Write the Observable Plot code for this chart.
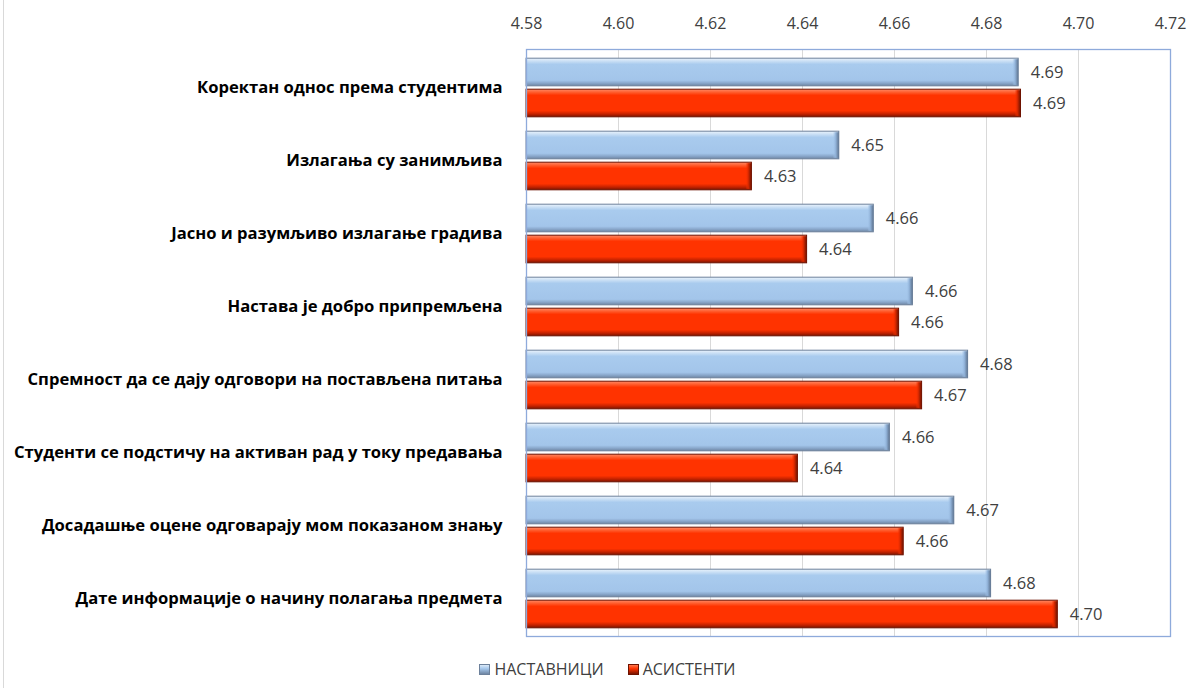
<!DOCTYPE html>
<html><head><meta charset="utf-8">
<script src="https://cdn.jsdelivr.net/npm/d3@7"></script>
<script src="https://cdn.jsdelivr.net/npm/@observablehq/plot@0.6"></script>
<style>
body{margin:0;background:#fff;font-family:"Open Sans",sans-serif;}
#wrap{position:relative;width:1189px;height:688px;overflow:hidden;}
#edge{position:absolute;left:3px;top:0;width:1px;height:688px;background:#d9d9d9;}
#legend{position:absolute;top:658px;left:26px;width:1163px;display:flex;justify-content:center;gap:24px;font-size:16px;color:#404040;}
#legend .it{display:flex;align-items:center;gap:4px;}
#legend .sw{width:9px;height:9px;display:inline-block;}
</style></head>
<body><div id="wrap"><div id="edge"></div><div id="chart"></div><div id="legend"></div></div>
<script>
const categories = [
  "Коректан однос према студентима",
  "Излагања су занимљива",
  "Јасно и разумљиво излагање градива",
  "Настава је добро припремљена",
  "Спремност да се дају одговори на постављена питања",
  "Студенти се подстичу на активан рад у току предавања",
  "Досадашње оцене одговарају мом показаном знању",
  "Дате информације о начину полагања предмета"
];
const seriesNames = ["НАСТАВНИЦИ", "АСИСТЕНТИ"];
const nastavnici = [4.687, 4.648, 4.6555, 4.664, 4.676, 4.659, 4.673, 4.681];
const asistenti  = [4.6875, 4.629, 4.641, 4.661, 4.666, 4.639, 4.662, 4.6955];
const xTicks = [4.58, 4.60, 4.62, 4.64, 4.66, 4.68, 4.70, 4.72];
const xMin = 4.58, xMax = 4.72;

const blue = categories.map((c, i) => ({cat: c, value: nastavnici[i], series: seriesNames[0]}));
const red  = categories.map((c, i) => ({cat: c, value: asistenti[i],  series: seriesNames[1]}));

const W = 1189, H = 648, mTop = 49, mBottom = 12, mLeft = 526, mRight = 19;
const band = (H - mTop - mBottom) / categories.length;
const barH = 28, gap = 3, outer = (band - 2 * barH - gap) / 2;
const fmt = d3.format(".2f");

const chart = Plot.plot({
  width: W, height: H,
  marginTop: mTop, marginBottom: mBottom, marginLeft: mLeft, marginRight: mRight,
  style: {fontFamily: "'Open Sans', sans-serif", background: "#fff"},
  x: {domain: [xMin, xMax], label: null},
  y: {domain: categories, padding: 0, label: null},
  marks: [
    Plot.gridX(xTicks.slice(1, -1), {stroke: "#d9d9d9", strokeOpacity: 1, strokeWidth: 1}),
    Plot.axisX(xTicks, {anchor: "top", label: null, tickSize: 0, tickPadding: 21, tickFormat: fmt, fontSize: 16, fill: "#404040"}),
    Plot.axisY({label: null, tickSize: 0, tickPadding: 24, fontSize: 16.6, fontWeight: "bold", fill: "#000"}),
    Plot.barX(blue, {x1: () => xMin, x2: "value", y: "cat", insetTop: outer, insetBottom: band - outer - barH, fill: "url(#gBlue)", stroke: "#6d819b", strokeWidth: 1}),
    Plot.barX(red, {x1: () => xMin, x2: "value", y: "cat", insetTop: outer + barH + gap, insetBottom: outer, fill: "url(#gRed)", stroke: "#6e1200", strokeWidth: 1}),
    Plot.barX(blue, {x1: d => d.value - 0.0013, x2: "value", y: "cat", insetTop: outer + 1, insetBottom: band - outer - barH + 1, fill: "url(#gBlueEnd)"}),
    Plot.barX(red, {x1: d => d.value - 0.0013, x2: "value", y: "cat", insetTop: outer + barH + gap + 1, insetBottom: outer + 1, fill: "url(#gRedEnd)"}),
    Plot.text(blue, {x: "value", y: "cat", text: d => fmt(d.value), dx: 12, dy: -(barH + gap) / 2, textAnchor: "start", fontSize: 16.5, fill: "#404040"}),
    Plot.text(red, {x: "value", y: "cat", text: d => fmt(d.value), dx: 12, dy: (barH + gap) / 2, textAnchor: "start", fontSize: 16.5, fill: "#404040"}),
    Plot.frame({stroke: "#8eaadb", strokeWidth: 1.3})
  ]
});

const defs = document.createElementNS("http://www.w3.org/2000/svg", "defs");
defs.innerHTML = `
<linearGradient id="gBlue" x1="0" y1="0" x2="0" y2="1">
  <stop offset="0" stop-color="#eaf3fc"/><stop offset="0.12" stop-color="#c6ddf4"/>
  <stop offset="0.22" stop-color="#a9cbee"/><stop offset="0.8" stop-color="#a3c5ea"/>
  <stop offset="0.9" stop-color="#8aa8cc"/><stop offset="1" stop-color="#6f86a3"/>
</linearGradient>
<linearGradient id="gRed" x1="0" y1="0" x2="0" y2="1">
  <stop offset="0" stop-color="#ff8a66"/><stop offset="0.12" stop-color="#ff5a2a"/>
  <stop offset="0.22" stop-color="#ff3300"/><stop offset="0.78" stop-color="#ff3300"/>
  <stop offset="0.9" stop-color="#c42200"/><stop offset="1" stop-color="#7a1400"/>
</linearGradient>
<linearGradient id="gBlueEnd" x1="0" y1="0" x2="1" y2="0">
  <stop offset="0" stop-color="#a3c5ea" stop-opacity="0"/><stop offset="0.5" stop-color="#8fb0d6"/><stop offset="1" stop-color="#5f7591"/>
</linearGradient>
<linearGradient id="gRedEnd" x1="0" y1="0" x2="1" y2="0">
  <stop offset="0" stop-color="#ff3300" stop-opacity="0"/><stop offset="0.5" stop-color="#d42800"/><stop offset="1" stop-color="#6e1200"/>
</linearGradient>`;
chart.insertBefore(defs, chart.firstChild);
document.getElementById("chart").appendChild(chart);

const legend = document.getElementById("legend");
const swatches = ["linear-gradient(#dbeaf8,#a6c8ec 40%,#6f86a3)", "linear-gradient(#ff7a50,#ff3300 40%,#7a1400)"];
seriesNames.forEach((s, i) => {
  const it = document.createElement("div"); it.className = "it";
  const sw = document.createElement("span"); sw.className = "sw"; sw.style.background = swatches[i];
  sw.style.border = "1px solid " + (i ? "#6e1200" : "#6d819b");
  const t = document.createElement("span"); t.textContent = s;
  it.appendChild(sw); it.appendChild(t); legend.appendChild(it);
});
</script></body></html>
